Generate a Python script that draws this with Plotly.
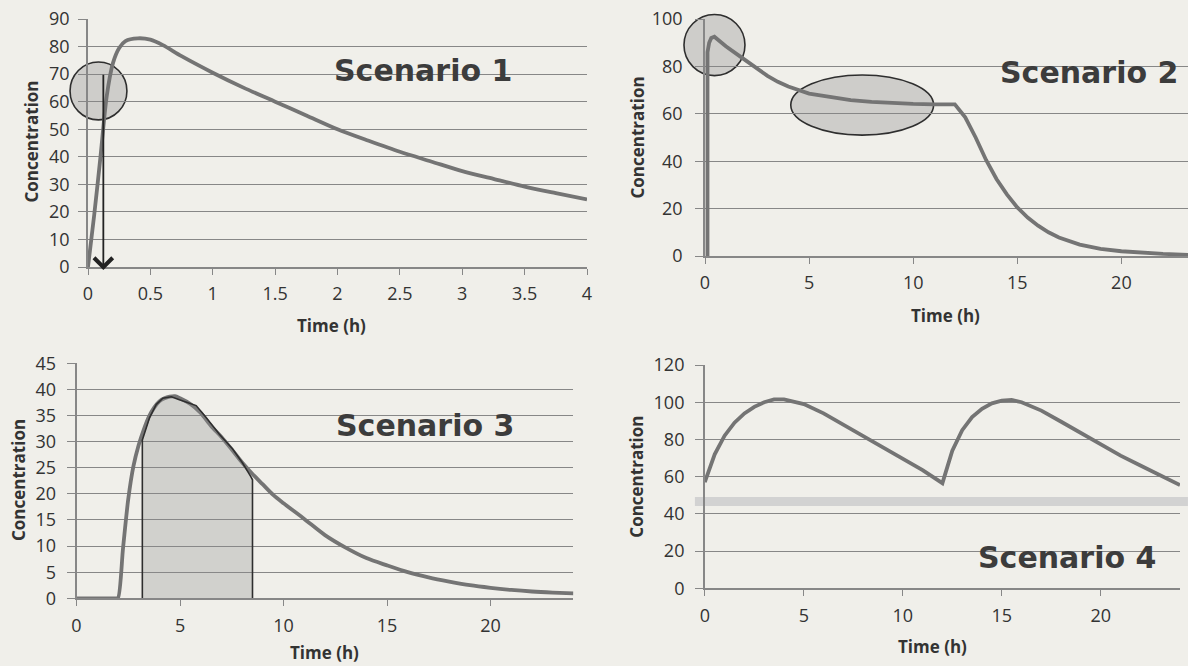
import plotly.graph_objects as go

# ---------------- data ----------------
s1_time = [0, 0.05, 0.1, 0.15, 0.2, 0.25, 0.3, 0.4, 0.5, 0.6, 0.75, 1.0, 1.25, 1.5,
           1.75, 2.0, 2.25, 2.5, 2.75, 3.0, 3.25, 3.5, 3.75, 4.0]
s1_conc = [0, 19, 40, 62, 74, 79.5, 82, 83, 82.5, 80.5, 76.5, 70.5, 65, 60,
           55, 50, 45.8, 41.8, 38.3, 34.8, 32, 29.2, 26.8, 24.5]

s2_time = [0.12, 0.12, 0.2, 0.3, 0.45, 1.0, 1.8, 2.5, 3.0, 3.5, 4.0, 5.0, 6.0, 7.0,
           8.0, 9.0, 10.0, 11.0, 12.0, 12.5, 13.0, 13.5, 14.0, 14.5, 15.0, 15.5,
           16.0, 16.5, 17.0, 18.0, 19.0, 20.0, 21.0, 22.0, 23.2]
s2_conc = [0, 86, 90, 92, 92.5, 88.5, 83.5, 79, 76, 73.5, 71.5, 68.5, 67, 65.8,
           65, 64.5, 64.2, 64, 64, 58.5, 50, 40.5, 32.5, 26, 20.5, 16.2,
           12.8, 10, 7.8, 4.8, 3, 2, 1.3, 0.9, 0.5]

s3_time = [0, 1.9, 2.0, 2.25, 2.5, 2.75, 3.0, 3.25, 3.5, 3.75, 4.0, 4.25, 4.5, 4.75, 5.0,
           5.5, 6.0, 6.5, 7.0, 7.5, 8.0, 8.5, 9.0, 9.5, 10, 11, 12, 13, 14, 15,
           16, 17, 18, 19, 20, 21, 22, 23, 24]
s3_conc = [0, 0, 0, 9.7, 19, 25.3, 29.3, 32.3, 34.8, 36.5, 37.7, 38.3, 38.6, 38.7, 38.3,
           37.2, 35.5, 33, 30.9, 28.5, 26, 23.8, 21.8, 19.8, 18.2, 15.2, 12.1, 9.7, 7.7, 6.3,
           5.0, 4.0, 3.2, 2.5, 2.0, 1.6, 1.3, 1.1, 0.95]

# hand-drawn shaded area (AUC window) in scenario 3
s3_shade_time = [3.18, 3.18, 3.53, 3.85, 4.17, 4.58, 4.97, 5.37, 5.78, 6.26, 6.9,
                 7.54, 8.02, 8.42, 8.5, 8.5, 3.18]
s3_shade_conc = [-0.9, 30.3, 34.6, 37.1, 38.3, 38.6, 38.0, 37.4, 36.9, 34.6, 31.4,
                 28.6, 25.9, 23.3, 22.7, -0.9, -0.9]

s4_time = [0, 0.5, 1.0, 1.5, 2.0, 2.5, 3.0, 3.5, 4.0, 4.5, 5.0, 6, 7, 8, 9, 10, 11, 12,
           12.25, 12.5, 13, 13.5, 14, 14.5, 15, 15.5, 16, 16.5, 17, 18, 19, 20, 21, 22, 23, 24]
s4_conc = [57, 72, 82, 89, 94, 97.5, 100, 101.5, 101.5, 100.5, 99, 94, 88, 81.5, 75.5, 69.5, 63.5, 56.5,
           66, 74, 85, 92, 96.5, 99.4, 100.8, 101.2, 100, 98, 95.5, 89.5, 83.3, 77, 71.3, 66, 61, 55.5]

# highlight marks (data units)
s1_circle = dict(t0=-0.144, t1=0.312, c0=53.4, c1=74.4)
s1_arrow = dict(t=0.123, c_tail=70.3, c_tip=-1.1)
s2_circle = dict(t0=-1.01, t1=1.92, c0=76.1, c1=101.9)
s2_ellipse = dict(t0=4.12, t1=10.98, c0=51.0, c1=76.4)
s4_band = dict(t0=-0.5, t1=24.4, c0=44.2, c1=49.1)

x_title = "Time (h)"
y_title = "Concentration"
scenario_names = ["Scenario 1", "Scenario 2", "Scenario 3", "Scenario 4"]

# ---------------- layout geometry ----------------
W, H = 1188, 666
BG = "#f0efea"
GRID = "#878787"
CURVE = "#747474"
TXT = "#333333"

panels = {
    1: dict(xpx=(88, 587), ypx=(19, 267), xr=[0, 4], yr=[0, 90], xdt=0.5, ydt=10, stand=5),
    2: dict(xpx=(705, 1188), ypx=(19, 256), xr=[0, 23.2], yr=[0, 100], xdt=5, ydt=20, stand=9),
    3: dict(xpx=(76.5, 573.4), ypx=(363.3, 598.3), xr=[0, 24], yr=[0, 45], xdt=5, ydt=5, stand=7),
    4: dict(xpx=(704.8, 1180), ypx=(365, 588.3), xr=[0, 24], yr=[0, 120], xdt=5, ydt=20, stand=7),
}

fig = go.Figure()
layout = dict(width=W, height=H, margin=dict(l=0, r=0, t=0, b=0, autoexpand=False),
              paper_bgcolor=BG, plot_bgcolor="rgba(0,0,0,0)", showlegend=False,
              font=dict(family="Open Sans", color=TXT))

tickfont = dict(family="Open Sans", size=18, color=TXT)
for k, p in panels.items():
    sfx = "" if k == 1 else str(k)
    layout["xaxis" + sfx] = dict(
        domain=[p["xpx"][0] / W, p["xpx"][1] / W], range=p["xr"], tick0=0, dtick=p["xdt"],
        anchor="y" + sfx, showgrid=False, zeroline=False, showline=True, linecolor=GRID,
        linewidth=1.5, ticks="outside", ticklen=6, tickwidth=1.2, tickcolor=GRID,
        tickfont=tickfont, ticklabelstandoff=4, automargin=False)
    layout["yaxis" + sfx] = dict(
        domain=[1 - p["ypx"][1] / H, 1 - p["ypx"][0] / H], range=p["yr"], tick0=0, dtick=p["ydt"],
        anchor="x" + sfx, showgrid=True, gridcolor=GRID, gridwidth=1.3, zeroline=False,
        showline=True, linecolor=GRID, linewidth=1.5, ticks="outside", ticklen=8,
        tickwidth=1.3, tickcolor=GRID, tickfont=tickfont, ticklabelstandoff=p["stand"],
        automargin=False)


def axes(k):
    return ("x", "y") if k == 1 else ("x%d" % k, "y%d" % k)


def curve(k, t, c, shape="linear"):
    xa, ya = axes(k)
    fig.add_trace(go.Scatter(x=t, y=c, mode="lines", xaxis=xa, yaxis=ya,
                             line=dict(color=CURVE, width=3.8, shape=shape, smoothing=0.8),
                             hoverinfo="skip"))


curve(1, s1_time, s1_conc, "spline")
curve(2, s2_time, s2_conc)
curve(3, s3_time, s3_conc, "spline")
fig.add_trace(go.Scatter(x=s3_shade_time, y=s3_shade_conc, mode="lines", xaxis="x3", yaxis="y3",
                         fill="toself", fillcolor="rgba(140,140,140,0.30)",
                         line=dict(color="#2e2e2e", width=1.6), hoverinfo="skip"))
curve(4, s4_time, s4_conc)


def dom(v, rng):
    return (v - rng[0]) / (rng[1] - rng[0])


def area(k, spec, kind, **style):
    p = panels[k]
    xa, ya = axes(k)
    return dict(type=kind, xref=xa + " domain", yref=ya + " domain",
                x0=dom(spec["t0"], p["xr"]), x1=dom(spec["t1"], p["xr"]),
                y0=dom(spec["c0"], p["yr"]), y1=dom(spec["c1"], p["yr"]), **style)


ring = dict(fillcolor="rgba(150,150,150,0.38)", line=dict(color="#2e2e2e", width=1.6), layer="below")
shapes = [
    area(4, s4_band, "rect", fillcolor="#d2d2d2", line=dict(width=0), layer="below"),
    area(1, s1_circle, "circle", **ring),
    area(2, s2_circle, "circle", **ring),
    area(2, s2_ellipse, "circle", **ring),
]
layout["shapes"] = shapes

ann = []
# arrow in scenario 1
ann.append(dict(x=s1_arrow["t"], y=s1_arrow["c_tip"], ax=s1_arrow["t"], ay=s1_arrow["c_tail"],
                xref="x", yref="y", axref="x", ayref="y", text="", showarrow=True,
                arrowhead=4, arrowsize=2.0, arrowwidth=1.8, arrowcolor="#222"))

# scenario labels
label_pos = [(423, 71, "center"), (998, 72.5, "left"), (425, 425, "center"), (1067, 557, "center")]
for name, (lx, ly, anc) in zip(scenario_names, label_pos):
    ann.append(dict(text=name, x=lx / W, y=1 - ly / H, xref="paper", yref="paper",
                    xanchor=anc, yanchor="middle", showarrow=False,
                    font=dict(family="DejaVu Sans", size=30, color="#3c3c3c", weight="bold")))

# axis titles
ytitle_pos = [(31.6, 142), (637, 137.5), (18, 480), (637, 476.7)]
xtitle_pos = [(331, 325), (945, 315), (324.5, 652), (932, 646.7)]
for (yx, yy), (xx, xy) in zip(ytitle_pos, xtitle_pos):
    ann.append(dict(text="<b>%s</b>" % y_title, x=yx / W, y=1 - yy / H, xref="paper", yref="paper",
                    textangle=-90, xanchor="center", yanchor="middle", showarrow=False,
                    font=dict(family="Open Sans", size=17, color="#333")))
    ann.append(dict(text="<b>%s</b>" % x_title, x=xx / W, y=1 - xy / H, xref="paper", yref="paper",
                    xanchor="center", yanchor="middle", showarrow=False,
                    font=dict(family="Open Sans", size=17, color="#333")))
layout["annotations"] = ann

fig.update_layout(**layout)
fig.write_html("out.html")
